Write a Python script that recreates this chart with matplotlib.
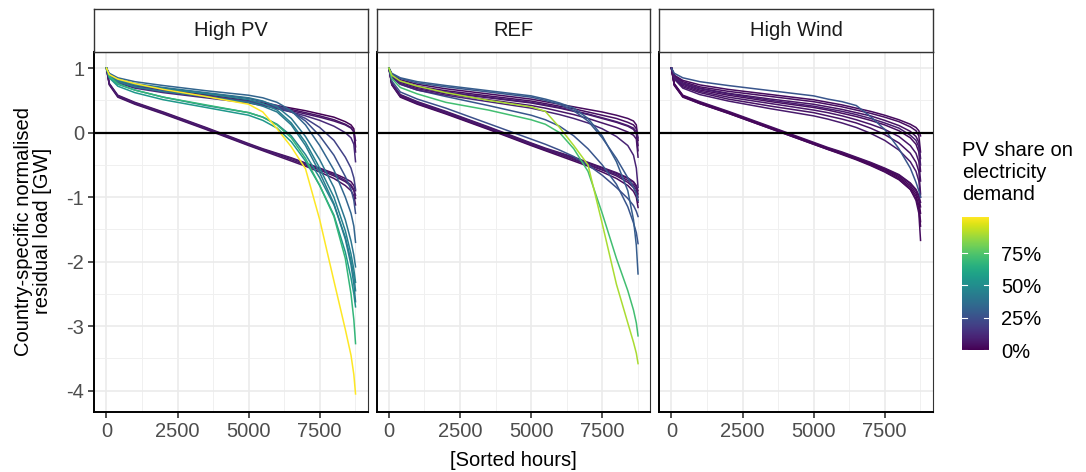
"""
Sorted residual-load duration curves per scenario, coloured by PV share.
"""

import matplotlib
matplotlib.use("Agg")
import matplotlib.pyplot as plt
import numpy as np
from matplotlib import cm, colors

plt.rcParams["font.family"] = ["Liberation Sans", "DejaVu Sans"]

# ---------------------------------------------------------------- data ----
HOURS = [0, 100, 400, 1000, 2000, 3500, 5000, 5500, 6000, 6500, 7000,
         7500, 8000, 8400, 8600, 8700, 8760]

SCENARIOS = ["High PV", "REF", "High Wind"]

HIGHPV_SHARE = [0.04, 0.06, 0.05, 0.08, 0.00, 0.05, 0.06, 0.12, 0.20, 0.25,
                0.33, 0.40, 0.45, 0.47, 0.55, 0.42, 0.68, 1.03]
HIGHPV_LOAD = [
    [1.00, 0.76, 0.58, 0.47, 0.32, 0.08, -0.17, -0.25, -0.32, -0.39, -0.47, -0.55, -0.63, -0.71, -0.76, -0.82, -0.90],
    [1.00, 0.75, 0.56, 0.45, 0.30, 0.06, -0.19, -0.27, -0.34, -0.42, -0.50, -0.58, -0.67, -0.76, -0.83, -0.90, -1.02],
    [1.00, 0.74, 0.55, 0.44, 0.29, 0.05, -0.20, -0.28, -0.36, -0.44, -0.52, -0.61, -0.71, -0.82, -0.90, -0.98, -1.12],
    [1.00, 0.76, 0.57, 0.46, 0.31, 0.07, -0.18, -0.26, -0.33, -0.40, -0.48, -0.56, -0.65, -0.74, -0.81, -0.88, -0.97],
    [1.00, 0.90, 0.82, 0.74, 0.67, 0.59, 0.50, 0.46, 0.42, 0.38, 0.34, 0.29, 0.24, 0.17, 0.12, 0.06, -0.22],
    [1.00, 0.89, 0.80, 0.72, 0.65, 0.57, 0.48, 0.44, 0.40, 0.36, 0.31, 0.26, 0.20, 0.13, 0.08, 0.02, -0.30],
    [1.00, 0.88, 0.79, 0.71, 0.64, 0.56, 0.47, 0.43, 0.39, 0.34, 0.29, 0.24, 0.18, 0.12, 0.07, 0.01, -0.12],
    [1.00, 0.87, 0.77, 0.69, 0.62, 0.54, 0.46, 0.42, 0.37, 0.32, 0.26, 0.19, 0.10, 0.00, -0.08, -0.18, -0.45],
    [1.00, 0.88, 0.79, 0.71, 0.64, 0.56, 0.48, 0.44, 0.39, 0.32, 0.22, 0.08, -0.12, -0.38, -0.55, -0.70, -0.88],
    [1.00, 0.90, 0.82, 0.75, 0.69, 0.61, 0.53, 0.48, 0.42, 0.33, 0.18, -0.05, -0.35, -0.68, -0.88, -1.05, -1.25],
    [1.00, 0.92, 0.85, 0.79, 0.73, 0.65, 0.58, 0.54, 0.47, 0.34, 0.12, -0.20, -0.58, -1.00, -1.25, -1.45, -1.70],
    [1.00, 0.90, 0.83, 0.76, 0.70, 0.62, 0.54, 0.49, 0.40, 0.22, -0.06, -0.42, -0.85, -1.35, -1.68, -1.90, -2.08],
    [1.00, 0.89, 0.81, 0.74, 0.68, 0.60, 0.51, 0.45, 0.35, 0.15, -0.15, -0.55, -1.00, -1.52, -1.88, -2.12, -2.32],
    [1.00, 0.86, 0.75, 0.66, 0.55, 0.42, 0.31, 0.24, 0.13, -0.05, -0.34, -0.70, -1.12, -1.62, -1.98, -2.22, -2.45],
    [1.00, 0.85, 0.72, 0.62, 0.51, 0.39, 0.27, 0.19, 0.07, -0.14, -0.44, -0.82, -1.28, -1.85, -2.25, -2.50, -2.70],
    [1.00, 0.88, 0.79, 0.71, 0.64, 0.56, 0.47, 0.41, 0.32, 0.12, -0.20, -0.62, -1.10, -1.65, -2.05, -2.35, -2.62],
    [1.00, 0.87, 0.76, 0.66, 0.55, 0.43, 0.31, 0.24, 0.12, -0.08, -0.40, -0.82, -1.30, -1.95, -2.50, -2.90, -3.27],
    [1.00, 0.90, 0.83, 0.76, 0.67, 0.56, 0.44, 0.32, 0.06, -0.22, -0.56, -1.35, -2.30, -3.05, -3.45, -3.75, -4.05],
]

REF_SHARE = [0.04, 0.05, 0.03, 0.06, 0.07, 0.25, 0.27, 0.03, 0.04, 0.05,
             0.06, 0.08, 0.10, 0.30, 0.28, 0.72, 0.90]
REF_LOAD = [
    [1.00, 0.76, 0.58, 0.47, 0.32, 0.08, -0.17, -0.25, -0.32, -0.39, -0.47, -0.55, -0.63, -0.71, -0.77, -0.84, -0.95],
    [1.00, 0.75, 0.56, 0.45, 0.30, 0.06, -0.19, -0.27, -0.34, -0.42, -0.50, -0.58, -0.67, -0.77, -0.85, -0.93, -1.08],
    [1.00, 0.74, 0.55, 0.44, 0.29, 0.05, -0.20, -0.28, -0.36, -0.44, -0.52, -0.61, -0.71, -0.82, -0.91, -1.00, -1.16],
    [1.00, 0.77, 0.59, 0.48, 0.33, 0.09, -0.16, -0.24, -0.31, -0.38, -0.46, -0.54, -0.62, -0.70, -0.76, -0.82, -0.90],
    [1.00, 0.75, 0.57, 0.46, 0.31, 0.07, -0.18, -0.26, -0.33, -0.41, -0.49, -0.57, -0.65, -0.74, -0.81, -0.88, -1.00],
    [1.00, 0.80, 0.63, 0.52, 0.38, 0.14, -0.10, -0.18, -0.27, -0.37, -0.50, -0.66, -0.85, -1.02, -1.13, -1.22, -1.30],
    [1.00, 0.86, 0.75, 0.66, 0.56, 0.42, 0.27, 0.20, 0.10, -0.05, -0.25, -0.50, -0.80, -1.15, -1.40, -1.55, -1.72],
    [1.00, 0.90, 0.82, 0.75, 0.68, 0.60, 0.52, 0.48, 0.44, 0.40, 0.36, 0.32, 0.27, 0.22, 0.18, 0.12, -0.12],
    [1.00, 0.89, 0.80, 0.72, 0.65, 0.57, 0.49, 0.45, 0.41, 0.37, 0.32, 0.27, 0.22, 0.16, 0.12, 0.06, -0.20],
    [1.00, 0.88, 0.78, 0.70, 0.62, 0.54, 0.46, 0.42, 0.38, 0.33, 0.28, 0.22, 0.16, 0.10, 0.05, -0.02, -0.28],
    [1.00, 0.87, 0.76, 0.68, 0.60, 0.51, 0.42, 0.38, 0.33, 0.28, 0.22, 0.15, 0.08, 0.01, -0.04, -0.10, -0.38],
    [1.00, 0.88, 0.79, 0.71, 0.63, 0.55, 0.47, 0.43, 0.39, 0.34, 0.29, 0.23, 0.17, 0.11, 0.07, 0.01, -0.08],
    [1.00, 0.86, 0.75, 0.66, 0.58, 0.48, 0.38, 0.33, 0.28, 0.22, 0.15, 0.06, -0.06, -0.20, -0.35, -0.55, -0.85],
    [1.00, 0.92, 0.85, 0.79, 0.73, 0.65, 0.57, 0.52, 0.46, 0.38, 0.22, -0.05, -0.45, -0.90, -1.35, -1.75, -2.19],
    [1.00, 0.91, 0.84, 0.77, 0.71, 0.63, 0.55, 0.50, 0.44, 0.34, 0.18, -0.08, -0.40, -0.70, -0.85, -0.95, -1.05],
    [1.00, 0.84, 0.70, 0.60, 0.47, 0.35, 0.20, 0.13, 0.00, -0.25, -0.60, -1.25, -1.95, -2.45, -2.75, -2.95, -3.15],
    [1.00, 0.89, 0.80, 0.72, 0.62, 0.50, 0.40, 0.33, 0.08, -0.20, -0.50, -1.41, -2.35, -2.95, -3.25, -3.42, -3.58],
]

WIND_SHARE = [0.02, 0.03, 0.02, 0.03, 0.04, 0.02, 0.03, 0.04, 0.05, 0.04,
              0.06, 0.05, 0.07, 0.08, 0.27]
WIND_LOAD = [
    [1.00, 0.74, 0.56, 0.46, 0.31, 0.07, -0.17, -0.25, -0.32, -0.40, -0.48, -0.57, -0.68, -0.82, -0.94, -1.05, -1.25],
    [1.00, 0.75, 0.57, 0.47, 0.32, 0.08, -0.16, -0.24, -0.31, -0.39, -0.47, -0.56, -0.66, -0.79, -0.90, -1.00, -1.15],
    [1.00, 0.73, 0.55, 0.45, 0.30, 0.06, -0.18, -0.26, -0.34, -0.42, -0.51, -0.61, -0.73, -0.88, -1.02, -1.18, -1.45],
    [1.00, 0.74, 0.56, 0.45, 0.30, 0.06, -0.18, -0.26, -0.33, -0.41, -0.50, -0.60, -0.72, -0.88, -1.05, -1.25, -1.67],
    [1.00, 0.76, 0.58, 0.48, 0.33, 0.09, -0.15, -0.23, -0.30, -0.38, -0.46, -0.55, -0.65, -0.78, -0.88, -0.97, -1.08],
    [1.00, 0.75, 0.57, 0.46, 0.31, 0.07, -0.17, -0.25, -0.33, -0.41, -0.49, -0.58, -0.70, -0.85, -0.98, -1.12, -1.38],
    [1.00, 0.89, 0.81, 0.74, 0.67, 0.59, 0.51, 0.47, 0.43, 0.38, 0.33, 0.27, 0.20, 0.13, 0.08, 0.03, -0.05],
    [1.00, 0.88, 0.79, 0.71, 0.64, 0.56, 0.48, 0.44, 0.40, 0.35, 0.30, 0.24, 0.17, 0.09, 0.03, -0.05, -0.30],
    [1.00, 0.87, 0.77, 0.69, 0.61, 0.52, 0.44, 0.40, 0.36, 0.31, 0.26, 0.19, 0.11, 0.02, -0.06, -0.15, -0.40],
    [1.00, 0.86, 0.75, 0.66, 0.58, 0.48, 0.39, 0.35, 0.30, 0.25, 0.19, 0.12, 0.03, -0.08, -0.18, -0.30, -0.60],
    [1.00, 0.85, 0.73, 0.64, 0.55, 0.45, 0.35, 0.31, 0.26, 0.20, 0.13, 0.05, -0.06, -0.20, -0.32, -0.45, -0.75],
    [1.00, 0.84, 0.71, 0.62, 0.52, 0.41, 0.31, 0.26, 0.21, 0.15, 0.07, -0.03, -0.16, -0.32, -0.46, -0.60, -0.95],
    [1.00, 0.83, 0.69, 0.59, 0.49, 0.37, 0.26, 0.21, 0.15, 0.08, -0.01, -0.12, -0.27, -0.45, -0.60, -0.75, -1.00],
    [1.00, 0.86, 0.76, 0.68, 0.60, 0.50, 0.41, 0.37, 0.33, 0.28, 0.22, 0.15, 0.07, -0.04, -0.12, -0.22, -0.50],
    [1.00, 0.92, 0.85, 0.79, 0.73, 0.65, 0.57, 0.52, 0.48, 0.42, 0.25, 0.05, -0.25, -0.55, -0.77, -0.90, -1.00],
]

PANEL_SHARES = [HIGHPV_SHARE, REF_SHARE, WIND_SHARE]
PANEL_LOADS = [HIGHPV_LOAD, REF_LOAD, WIND_LOAD]

X_TICKS = [0, 2500, 5000, 7500]
Y_TICKS = [1, 0, -1, -2, -3, -4]
CBAR_TICKS = [0, 0.25, 0.5, 0.75]
CBAR_LABELS = ["0%", "25%", "50%", "75%"]

# --------------------------------------------------------------- layout ---
W, H = 1086, 472
FS = 14.5
TICK_COL = "#4D4D4D"
GRID_COL = "#EBEBEB"


def px_rect(x0, y0, x1, y1):
    """pixel box (top-left origin) -> figure fraction rect"""
    return [x0 / W, (H - y1) / H, (x1 - x0) / W, (y1 - y0) / H]


def main() -> None:
    fig = plt.figure(figsize=(W / 100, H / 100), dpi=100)
    cmap = matplotlib.colormaps["viridis"]
    norm = colors.Normalize(vmin=0.0, vmax=1.03)

    panel_x = [94, 376.5, 659]
    for pi, name in enumerate(SCENARIOS):
        x0 = panel_x[pi]
        ax = fig.add_axes(px_rect(x0, 52, x0 + 274, 412))
        sax = fig.add_axes(px_rect(x0, 9, x0 + 274, 52))

        # strip
        sax.set_xticks([])
        sax.set_yticks([])
        sax.set_facecolor("white")
        for s in sax.spines.values():
            s.set_color("#333333")
            s.set_linewidth(1.0)
        sax.text(0.5, 0.5, name, ha="center", va="center", fontsize=FS,
                 color="#1A1A1A", transform=sax.transAxes)

        # grid (major + minor, ggplot theme_bw look)
        ax.set_xlim(-438, 9198)
        ax.set_ylim(-4.33, 1.25)
        ax.set_xticks(X_TICKS)
        ax.set_xticks([1250, 3750, 6250, 8750], minor=True)
        ax.set_yticks(Y_TICKS)
        ax.set_yticks([0.5, -0.5, -1.5, -2.5, -3.5], minor=True)
        ax.grid(which="major", color=GRID_COL, linewidth=1.2, zorder=0)
        ax.grid(which="minor", color="#F0F0F0", linewidth=0.7, zorder=0)
        ax.set_axisbelow(True)

        shares = PANEL_SHARES[pi]
        for share, load in zip(shares, PANEL_LOADS[pi]):
            ax.plot(HOURS, load, color=cmap(norm(share)), linewidth=1.1,
                    solid_joinstyle="round", zorder=2)

        ax.axhline(0, color="black", linewidth=1.6, zorder=3)

        ax.tick_params(which="major", length=4, width=1.2, color="#333333",
                       labelsize=FS, labelcolor=TICK_COL, pad=3)
        ax.tick_params(which="minor", length=0)
        ax.set_xticklabels([str(t) for t in X_TICKS])
        if pi == 0:
            ax.set_yticklabels([str(t) for t in Y_TICKS])
        else:
            ax.tick_params(axis="y", which="major", length=0, labelleft=False)

        for side in ["top", "right"]:
            ax.spines[side].set_color("#333333")
            ax.spines[side].set_linewidth(0.8)
        for side in ["left", "bottom"]:
            ax.spines[side].set_color("black")
            ax.spines[side].set_linewidth(1.4)

    # axis titles
    fig.text(33 / W, 1 - 231 / H, "Country-specific normalised\nresidual load [GW]",
             rotation=90, ha="center", va="center", multialignment="center",
             fontsize=FS, color="black", linespacing=1.0)
    fig.text(513 / W, 1 - 460 / H, "[Sorted hours]", ha="center", va="center",
             fontsize=FS, color="black")

    # colour bar legend
    cax = fig.add_axes(px_rect(962, 217, 989, 350))
    cb = fig.colorbar(cm.ScalarMappable(norm=norm, cmap=cmap), cax=cax,
                      ticks=CBAR_TICKS)
    cb.outline.set_visible(False)
    cb.ax.set_yticklabels(CBAR_LABELS)
    cb.ax.tick_params(length=0, labelsize=FS, labelcolor="black", pad=9)
    for t in CBAR_TICKS:
        cax.plot([0, 0.2], [t, t], color="white", linewidth=0.8,
                 transform=cax.get_yaxis_transform())
        cax.plot([0.8, 1.0], [t, t], color="white", linewidth=0.8,
                 transform=cax.get_yaxis_transform())
    fig.text(962 / W, 1 - 141 / H, "PV share on\nelectricity\ndemand",
             ha="left", va="top", fontsize=FS, color="black", linespacing=1.2)

    fig.savefig("out.png", dpi=100)
    plt.close(fig)


if __name__ == "__main__":
    main()
